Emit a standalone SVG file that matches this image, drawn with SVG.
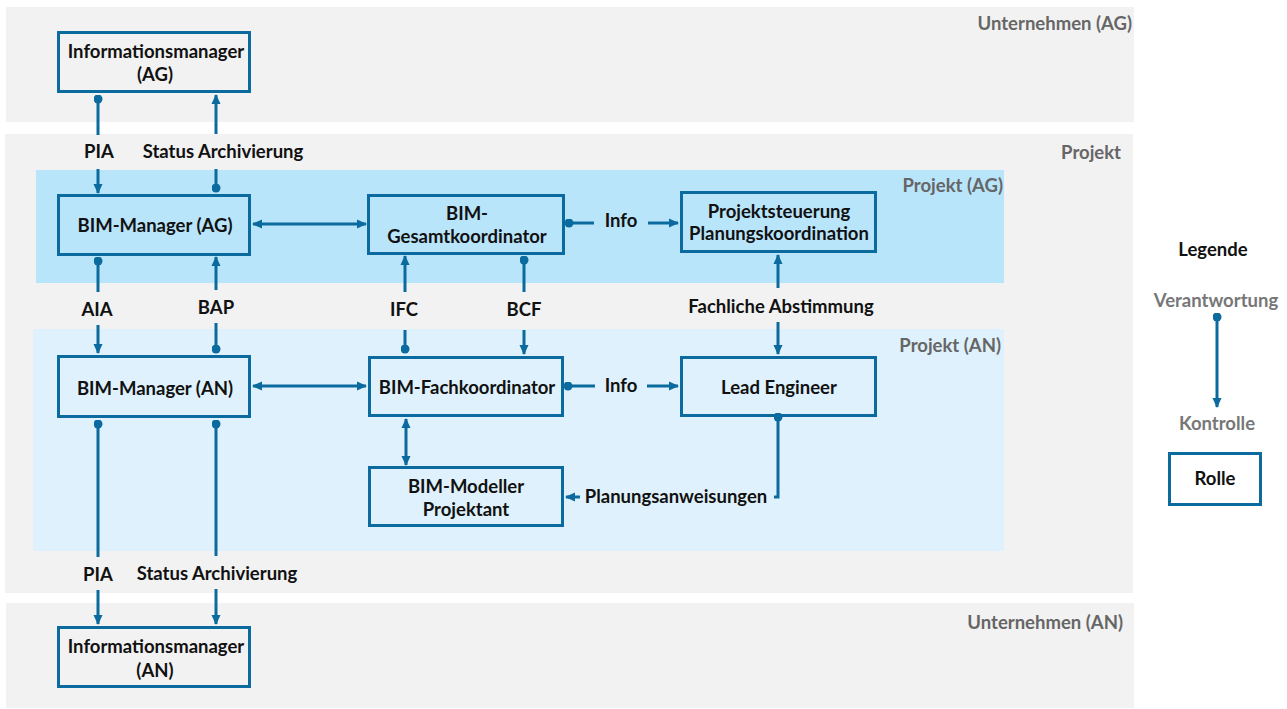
<svg xmlns="http://www.w3.org/2000/svg" width="1287" height="709" viewBox="0 0 1287 709">
<style>
text{font-family:Lato,"Open Sans","Liberation Sans",sans-serif;font-weight:bold;font-size:18.5px;}
.n{fill:#111;text-anchor:middle;}
.l{fill:#111;text-anchor:middle;}
.g{fill:#666;text-anchor:end;}
.lg{fill:#777;text-anchor:middle;}
.box{fill:none;stroke:#0b6a9e;stroke-width:3;}
.c{fill:none;stroke:#0b6a9e;stroke-width:3;}
.a{marker-end:url(#arr);}
.d{marker-start:url(#dot);}
.b{marker-start:url(#arr);marker-end:url(#arr);}
</style>
<defs>
<marker id="arr" viewBox="0 0 10 10" refX="9" refY="5" markerWidth="10" markerHeight="10" markerUnits="userSpaceOnUse" orient="auto-start-reverse"><path d="M0,0.5 L10,5 L0,9.5 z" fill="#0b6a9e"/></marker>
<marker id="dot" viewBox="0 0 10 10" refX="5" refY="5" markerWidth="9" markerHeight="9" markerUnits="userSpaceOnUse"><circle cx="5" cy="5" r="5" fill="#0b6a9e"/></marker>
</defs>
<g id="bands">
<rect x="6" y="7" width="1128" height="115" fill="#f2f2f2"/>
<rect x="5" y="134" width="1128" height="459" fill="#f2f2f2"/>
<rect x="36" y="170" width="968" height="113" fill="#b9e5fb"/>
<rect x="33" y="329" width="971" height="222" fill="#dff1fc"/>
<rect x="6" y="603" width="1128" height="105" fill="#f2f2f2"/>
<text class="g" x="1132" y="30">Unternehmen (AG)</text>
<text class="g" x="1121" y="159">Projekt</text>
<text class="g" x="1003" y="192">Projekt (AG)</text>
<text class="g" x="1001" y="352">Projekt (AN)</text>
<text class="g" x="1123" y="629">Unternehmen (AN)</text>
</g>
<g id="connectors">
<path class="c d" d="M98,99 V135"/><path class="c a" d="M98,169 V193"/>
<path class="c a" d="M216,134 V95"/><path class="c d" d="M216,188 V169"/>
<path class="c d" d="M98,261 V292"/><path class="c a" d="M98,325 V353"/>
<path class="c a" d="M216,290 V257"/><path class="c d" d="M216,349 V323"/>
<path class="c b" d="M253,224 H366"/>
<path class="c d" d="M569,223 H594"/><path class="c a" d="M648,223 H678"/>
<path class="c a" d="M405,292 V256"/><path class="c d" d="M405,349 V330"/>
<path class="c d" d="M524,260 V292"/><path class="c a" d="M524,330 V354"/>
<path class="c a" d="M778,288 V255"/><path class="c a" d="M778,322 V354"/>
<path class="c b" d="M253,386 H366"/>
<path class="c d" d="M568,386 H595"/><path class="c a" d="M647,386 H678"/>
<path class="c b" d="M406,419 V465"/>
<path class="c d" d="M778,417 V497 H774"/><path class="c a" d="M580,497 H566"/>
<path class="c d" d="M98,424 V557"/><path class="c a" d="M98,590 V624"/>
<path class="c d" d="M216,424 V556"/><path class="c a" d="M216,589 V624"/>
<path class="c d a" d="M1217,317 V407"/>
<text class="l" x="99" y="158">PIA</text>
<text class="l" x="223" y="158">Status Archivierung</text>
<text class="l" x="97" y="316">AIA</text>
<text class="l" x="216" y="314">BAP</text>
<text class="l" x="404" y="316">IFC</text>
<text class="l" x="524" y="316">BCF</text>
<text class="l" x="781" y="313">Fachliche Abstimmung</text>
<text class="l" x="621" y="227">Info</text>
<text class="l" x="621" y="392">Info</text>
<text class="l" x="676" y="503">Planungsanweisungen</text>
<text class="l" x="98" y="581">PIA</text>
<text class="l" x="217" y="580">Status Archivierung</text>
</g>
<g id="im-ag"><rect class="box" x="58.5" y="32.5" width="191" height="59"/><text class="n" x="156" y="58">Informationsmanager</text><text class="n" x="155" y="81">(AG)</text></g>
<g id="bm-ag"><rect class="box" x="58.5" y="195.5" width="191" height="59"/><text class="n" x="155" y="232">BIM-Manager (AG)</text></g>
<g id="gesamt"><rect class="box" x="368.5" y="195.5" width="195" height="58"/><text class="n" x="467" y="220">BIM-</text><text class="n" x="467" y="243">Gesamtkoordinator</text></g>
<g id="projektsteuerung"><rect class="box" x="681.5" y="192.5" width="194" height="59"/><text class="n" x="779" y="218">Projektsteuerung</text><text class="n" x="779" y="240">Planungskoordination</text></g>
<g id="bm-an"><rect class="box" x="58.5" y="356.5" width="191" height="60"/><text class="n" x="155" y="395">BIM-Manager (AN)</text></g>
<g id="fach"><rect class="box" x="369.5" y="357.5" width="193" height="58"/><text class="n" x="467" y="394">BIM-Fachkoordinator</text></g>
<g id="lead"><rect class="box" x="681.5" y="357.5" width="194" height="58"/><text class="n" x="779" y="394">Lead Engineer</text></g>
<g id="modeller"><rect class="box" x="369.5" y="467.5" width="193" height="58"/><text class="n" x="466" y="493">BIM-Modeller</text><text class="n" x="466" y="516">Projektant</text></g>
<g id="im-an"><rect class="box" x="58.5" y="627.5" width="191" height="59"/><text class="n" x="156" y="653">Informationsmanager</text><text class="n" x="155" y="677">(AN)</text></g>
<g id="legend">
<text class="n" x="1213" y="256">Legende</text>
<text class="lg" x="1216" y="307">Verantwortung</text>
<text class="lg" x="1217" y="430">Kontrolle</text>
<rect x="1169.5" y="453.5" width="91" height="51" fill="#fff" stroke="#0b6a9e" stroke-width="3"/>
<text class="n" x="1215" y="485">Rolle</text>
</g>
</svg>
